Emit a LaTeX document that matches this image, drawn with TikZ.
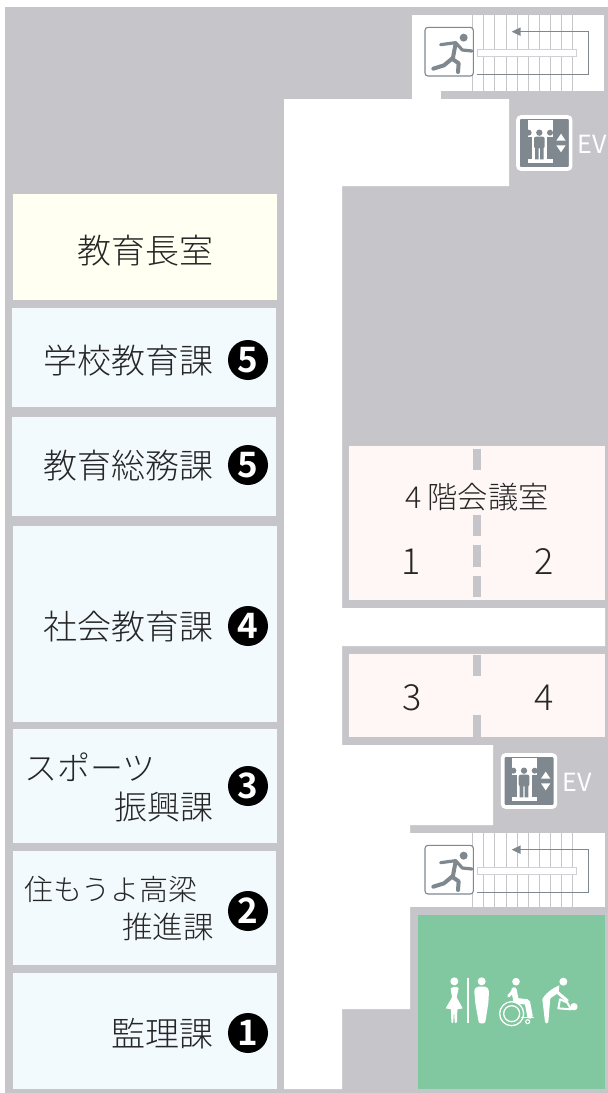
\documentclass[tikz,border=0pt]{standalone}
\usepackage{fontspec}
\IfFontExistsTF{Noto Sans CJK JP Light}{\setmainfont{Noto Sans CJK JP Light}}{\setmainfont{Noto Sans CJK JP}}
\newfontfamily\numfont{Noto Sans CJK JP Bold}
\newfontfamily\evfont{Noto Sans CJK JP}
\definecolor{wall}{HTML}{C6C5CA}
\definecolor{office}{HTML}{F2FAFE}
\definecolor{chief}{HTML}{FFFFF2}
\definecolor{meet}{HTML}{FFF7F5}
\definecolor{wc}{HTML}{81C79F}
\definecolor{sign}{HTML}{7F888F}
\tikzset{
  lab/.style={font=\fontsize{#1pt}{#1pt}\selectfont, text height=0.88*#1pt, text depth=0.12*#1pt, inner sep=0pt, text=black!85},
  badge/.style={circle, fill=black, text=white, minimum size=40pt, inner sep=0pt, font=\numfont\fontsize{35pt}{35pt}\selectfont},
  tread/.style={draw=wall, line width=1pt},
  flow/.style={draw=sign, line width=0.9pt},
  limb/.style={draw=sign, line width=4pt, line cap=round, line join=round},
  wlimb/.style={draw=white, line cap=round, line join=round},
  evtxt/.style={font=\evfont\fontsize{25pt}{25pt}\selectfont, text=white, inner sep=0pt},
}
\newcommand{\stairset}[1]{%
  \foreach \xx in {218,251,284,318,352,385,418,451,485,518}{\draw[tread] (\xx,45) -- (\xx,#1);}
  \draw[draw=wall!80, fill=white, line width=1pt] (232,147) rectangle (530,170);
  \draw[flow] (232,223) -- (565,223) -- (565,95) -- (355,95);
  \fill[sign] (335,95) -- (362,82) -- (362,108) -- cycle;
  \draw[draw=sign, fill=white, line width=1.1pt, rounded corners=3pt] (75,82) rectangle (220,228);
  \fill[sign] (191,113) circle (12);
  \draw[limb] (167,130) -- (158,178);
  \draw[limb, line width=3.2pt] (122,134) -- (167,128) -- (187,150) -- (216,153);
  \draw[limb] (156,176) -- (132,196) -- (100,206);
  \draw[limb] (156,176) -- (176,190) -- (174,216);
}
\newcommand{\evset}{%
  \draw[draw=white, fill=sign, line width=3.6pt, rounded corners=3pt] (354,351) rectangle (512,507);
  \fill[white] (383,360) rectangle (458,490);
  \fill[sign] (418,398) circle (9.5);
  \fill[sign, rounded corners=2pt] (402,410) rectangle (434,445);
  \fill[sign] (405,440) rectangle (416,478) (420,440) rectangle (431,478);
  \fill[sign] (386,398) circle (9);
  \fill[sign] (450,398) circle (9);
  \fill[sign] (380,410) -- (396,410) -- (396,478) -- (380,478) -- cycle;
  \fill[sign] (441,410) -- (460,410) -- (460,478) -- (441,478) -- cycle;
  \fill[white] (483,401) -- (497,422) -- (469,422) -- cycle;
  \fill[white] (483,457) -- (497,436) -- (469,436) -- cycle;
}
\begin{document}
\begin{tikzpicture}[x=1pt,y=-1pt]
\useasboundingbox (0,0) rectangle (608,1093);
% walls
\fill[white] (0,0) rectangle (608,1093);
\fill[wall] (5,7) rectangle (608,1093);
% corridor
\fill[white] (284,99) -- (509,99) -- (509,186) -- (342,186) -- (342,608) -- (605,608) -- (605,646) -- (342,646) -- (342,745) -- (493,745) -- (493,825) -- (410,825) -- (410,1009) -- (342,1009) -- (342,1089) -- (284,1089) -- cycle;
\fill[white] (412,15) rectangle (604,91);
\fill[white] (412,90) rectangle (441,100);
\fill[white] (410,833) rectangle (605,907);
% offices
\fill[chief] (13,194) rectangle (277,300);
\fill[office] (12,308) rectangle (276,407);
\fill[office] (12,417) rectangle (276,516);
\fill[office] (13,526) rectangle (277,722);
\fill[office] (13,729) rectangle (277,843);
\fill[office] (13,851) rectangle (276,965);
\fill[office] (13,973) rectangle (277,1089);
% meeting rooms
\fill[meet] (349,446) rectangle (605,600);
\fill[meet] (349,654) rectangle (605,737);
\fill[wall] (473,449) rectangle (481,470);
\fill[wall] (473,515) rectangle (481,536);
\fill[wall] (473,545) rectangle (481,567);
\fill[wall] (473,576) rectangle (481,597);
\fill[wall] (473,655) rectangle (481,676);
\fill[wall] (473,715) rectangle (481,737);
% toilet room
\fill[wc] (418,915) rectangle (605,1089);
% labels
\node[lab=34] (chief) at (145,251) {教育長室};
\node[lab=34,anchor=east] (gakko) at (214,361) {学校教育課};
\node[lab=34,anchor=east] (somu) at (214,466) {教育総務課};
\node[lab=34,anchor=east] (shakai) at (214,627) {社会教育課};
\node[lab=33,anchor=west] (sports) at (24,768) {スポーツ};
\node[lab=33,anchor=east] (shinko) at (214,807) {振興課};
\node[lab=29,anchor=west] (sumo) at (24,889) {住もうよ高梁};
\node[lab=30.5,anchor=east] (suishin) at (214,927) {推進課};
\node[lab=34,anchor=east] (kanri) at (214,1034) {監理課};
\node[badge] (b5a) at (248,360) {5};
\node[badge] (b5b) at (248,465) {5};
\node[badge] (b4) at (248,626) {4};
\node[badge] (b3) at (248,786) {3};
\node[badge] (b2) at (248,911) {2};
\node[badge] (b1) at (248,1033) {1};
\node[lab=30.3] (kaigi) at (477,497) {4\hspace{6pt}階会議室};
\node[lab=36] (r1) at (411,561) {1};
\node[lab=36] (r2) at (544,561) {2};
\node[lab=36] (r3) at (412,697) {3};
\node[lab=36] (r4) at (544,697) {4};
% stairs and lifts
\begin{scope}[shift={(400,0)},x=0.33333pt,y=-0.33333pt]
  \stairset{272}
  \evset
\end{scope}
\begin{scope}[shift={(400,818)},x=0.33333pt,y=-0.33333pt]
  \stairset{267}
\end{scope}
\begin{scope}[shift={(384.7,638)},x=0.33333pt,y=-0.33333pt]
  \evset
\end{scope}
\node[evtxt] (ev1) at (592,144) {EV};
\node[evtxt] (ev2) at (577,782) {EV};
% toilet pictograms
\begin{scope}[shift={(410,940)},x=0.33333pt,y=-0.33333pt]
  % woman
  \fill[white] (133,124) circle (12);
  \fill[white] (122,145) .. controls (133,138) and (143,140) .. (146,145) -- (140,172) -- (158,205) -- (142,208) -- (141,246) .. controls (139,251) and (135,251) .. (134,246) -- (132,210) -- (130,246) .. controls (129,251) and (125,251) .. (124,246) -- (123,208) -- (107,205) -- (126,172) -- cycle;
  % divider
  \draw[white, line width=2.6pt] (174,113) -- (174,250);
  % man
  \fill[white] (215,124) circle (12);
  \fill[white] (193,155) .. controls (193,144) and (200,140) .. (206,140) -- (225,140) .. controls (232,140) and (237,146) .. (237,155) -- (235,190) -- (226,246) .. controls (224,252) and (208,252) .. (206,246) -- (196,190) -- cycle;
  % wheelchair
  \fill[white] (318,125) circle (11.5);
  \draw[white, line width=1.3pt] (305,221) circle (36);
  \draw[white, line width=1.3pt] (305,221) circle (24);
  \draw[wlimb, line width=5.5pt] (312,150) -- (318,182) -- (352,186) -- (360,228);
  \draw[wlimb, line width=3pt] (312,150) -- (296,168);
  \draw[wlimb, line width=1.5pt] (335,232) -- (370,232);
  \draw[white, line width=1.1pt] (353,245) circle (6);
  % parent and baby
  \fill[white] (460,125) circle (12);
  \fill[white] (448,136) .. controls (425,145) and (402,165) .. (397,178) -- (405,246) .. controls (407,252) and (413,252) .. (415,246) -- (421,175) -- (446,158) -- cycle;
  \draw[wlimb, line width=3pt] (440,155) -- (472,182);
  \draw[wlimb, line width=2pt] (450,178) -- (445,205) -- (483,208) -- (472,188) -- cycle;
  \fill[white] (492,200) circle (11);
\end{scope}
\end{tikzpicture}
\end{document}
